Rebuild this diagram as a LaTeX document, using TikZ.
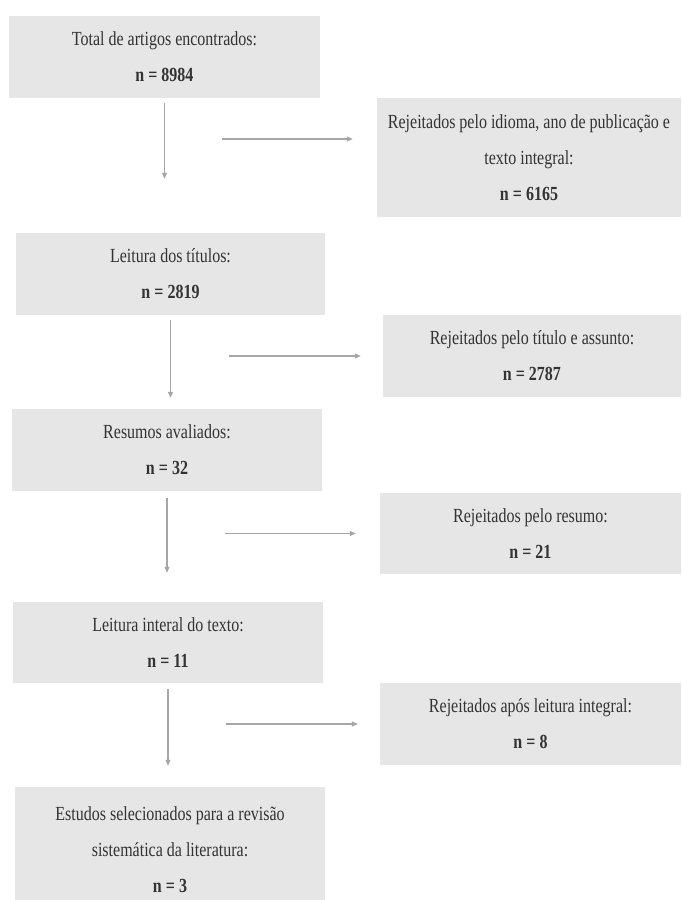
\documentclass[tikz,border=0pt]{standalone}
\usepackage{fontspec}
\setmainfont[FakeStretch=0.8]{Liberation Serif}
\usetikzlibrary{arrows.meta}
\definecolor{kasten}{HTML}{E7E6E6}
\definecolor{pfeil}{HTML}{A6A6A6}
\definecolor{schrift}{HTML}{333333}

\begin{document}
\begin{tikzpicture}[x=1pt, y=-1pt,
    box/.style={fill=kasten, inner sep=0pt, align=center, text=schrift,
      font=\fontsize{20}{36}\selectfont},
    pf/.style={draw=pfeil, line width=1.1pt, -{Triangle[length=6pt,width=5pt]}}]
    % Rahmen
    \useasboundingbox (0,0) rectangle (681,900);
    \clip (0,0) rectangle (681,900);

    % Hauptspalte (links)
    \node[box, minimum width=311pt, minimum height=82pt] (b1) at (164.5,57)
      {Total de artigos encontrados:\\\textbf{n = 8984}};
    \node[box, minimum width=309pt, minimum height=82pt] (b2) at (170.5,274)
      {Leitura dos títulos:\\\textbf{n = 2819}};
    \node[box, minimum width=310pt, minimum height=82pt] (b3) at (167,450)
      {Resumos avaliados:\\\textbf{n = 32}};
    \node[box, minimum width=310pt, minimum height=81pt] (b4) at (168,642.5)
      {Leitura interal do texto:\\\textbf{n = 11}};
    \node[box, minimum width=310pt, minimum height=126pt] (b5) at (170,850)
      {Estudos selecionados para a revisão\\sistemática da literatura:\\\textbf{n = 3}};

    % Ausgeschlossene (rechts)
    \node[box, minimum width=304pt, minimum height=119pt] (r1) at (529,157.5)
      {Rejeitados pelo idioma, ano de publicação e\\texto integral:\\\textbf{n = 6165}};
    \node[box, minimum width=298pt, minimum height=82pt] (r2) at (532,356)
      {Rejeitados pelo título e assunto:\\\textbf{n = 2787}};
    \node[box, minimum width=301pt, minimum height=81pt] (r3) at (530.5,533.5)
      {Rejeitados pelo resumo:\\\textbf{n = 21}};
    \node[box, minimum width=301pt, minimum height=82pt] (r4) at (530.5,724)
      {Rejeitados após leitura integral:\\\textbf{n = 8}};

    % Pfeile nach unten
    \draw[pf, shorten <=5pt, shorten >=54pt] (b1.south) -- (b1.south |- b2.north);
    \draw[pf, shorten <=5pt, shorten >=11pt] (b2.south) -- (b2.south |- b3.north);
    \draw[pf, shorten <=7pt, shorten >=29pt] (b3.south) -- (b3.south |- b4.north);
    \draw[pf, shorten <=6pt, shorten >=21pt] (b4.south) -- (b4.south |- b5.north);

    % Pfeile nach rechts
    \coordinate (s1) at (222,139);
    \coordinate (s2) at (229,356);
    \coordinate (s3) at (225,533.5);
    \coordinate (s4) at (226,724);
    \draw[pf, shorten >=24pt] (s1) -- (s1 -| r1.west);
    \draw[pf, shorten >=22pt] (s2) -- (r2.west);
    \draw[pf, shorten >=24pt] (s3) -- (r3.west);
    \draw[pf, shorten >=22pt] (s4) -- (r4.west);
\end{tikzpicture}
\end{document}
